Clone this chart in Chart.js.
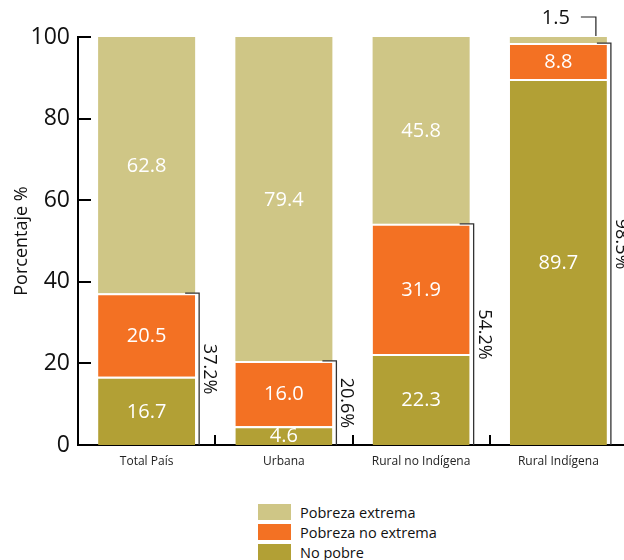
<!DOCTYPE html>
<html>
<head>
<meta charset="utf-8">
<title>Pobreza por área</title>
<script src="https://cdn.jsdelivr.net/npm/chart.js@4.4.0/dist/chart.umd.min.js"></script>
<style>
    body { margin: 0; background: #fff; width: 624px; height: 560px; overflow: hidden; position: relative; font-family: "Open Sans", sans-serif; }
    #wrap { position: absolute; left: 0; top: 0; width: 640px; height: 490px; }
    #leyenda { position: absolute; left: 258px; top: 502px; }
    .item { height: 20px; display: flex; align-items: center; font-size: 14.5px; color: #111; }
    .caja { width: 33px; height: 16px; margin-right: 9px; }
</style>
</head>
<body>
<div id="wrap"><canvas id="barras"></canvas></div>
<div id="leyenda"></div>
<script>
var categorias = ["Total País", "Urbana", "Rural no Indígena", "Rural Indígena"];
var noPobre = [16.7, 4.6, 22.3, 89.7];
var pobrezaNoExtrema = [20.5, 16.0, 31.9, 8.8];
var pobrezaExtrema = [62.8, 79.4, 45.8, 1.5];
var yTicks = [0, 20, 40, 60, 80, 100];

var fuente = '"Open Sans", sans-serif';

// valores dentro de cada segmento (o fuera con guía si no caben)
var etiquetas = {
    id: 'etiquetas',
    afterDatasetsDraw: function(chart) {
        var ctx = chart.ctx;
        ctx.save();
        ctx.font = '20px ' + fuente;
        ctx.textAlign = 'center';
        ctx.textBaseline = 'middle';
        chart.data.datasets.forEach(function(ds, i) {
            var meta = chart.getDatasetMeta(i);
            meta.data.forEach(function(bar, j) {
                var v = ds.data[j];
                var txt = v.toFixed(1);
                if (v < 3) {
                    var right = bar.x + bar.width / 2;
                    var top = Math.min(bar.y, bar.base);
                    ctx.strokeStyle = '#222';
                    ctx.lineWidth = 1.2;
                    ctx.beginPath();
                    ctx.moveTo(right - 26, top - 20);
                    ctx.lineTo(right - 11, top - 20);
                    ctx.lineTo(right - 11, top - 1);
                    ctx.stroke();
                    ctx.fillStyle = '#111';
                    ctx.fillText(txt, right - 51, top - 19);
                } else {
                    ctx.fillStyle = '#fff';
                    ctx.fillText(txt, bar.x, (bar.y + bar.base) / 2 + 1);
                }
            });
        });
        ctx.restore();
    }
};

// llave con el total de pobreza a la derecha de cada barra
var llaves = {
    id: 'llaves',
    afterDatasetsDraw: function(chart) {
        var ctx = chart.ctx;
        var y = chart.scales.y;
        var meta = chart.getDatasetMeta(1);
        ctx.save();
        meta.data.forEach(function(bar, j) {
            var total = noPobre[j] + pobrezaNoExtrema[j];
            var yTop = y.getPixelForValue(total);
            var y0 = y.getPixelForValue(0);
            var right = bar.x + bar.width / 2;
            var xv = right + 4;
            ctx.strokeStyle = '#333';
            ctx.lineWidth = 1.3;
            ctx.beginPath();
            ctx.moveTo(right - 10, yTop);
            ctx.lineTo(xv, yTop);
            ctx.lineTo(xv, y0);
            ctx.stroke();

            ctx.save();
            ctx.translate(xv + 10, (yTop + y0) / 2);
            ctx.rotate(Math.PI / 2);
            ctx.font = '18px ' + fuente;
            ctx.fillStyle = '#111';
            ctx.textAlign = 'center';
            ctx.textBaseline = 'middle';
            ctx.fillText(total.toFixed(1) + '%', 0, 0);
            ctx.restore();
        });
        ctx.restore();
    }
};

// marcas de los ejes hacia adentro
var marcas = {
    id: 'marcas',
    afterDraw: function(chart) {
        var ctx = chart.ctx;
        var area = chart.chartArea;
        var x = chart.scales.x, y = chart.scales.y;
        ctx.save();
        ctx.strokeStyle = '#000';
        ctx.lineWidth = 2;
        ctx.beginPath();
        yTicks.forEach(function(t) {
            var py = Math.round(y.getPixelForValue(t));
            ctx.moveTo(area.left, py);
            ctx.lineTo(area.left + 13, py);
        });
        for (var j = 1; j < categorias.length; j++) {
            var px = Math.round((x.getPixelForValue(j - 1) + x.getPixelForValue(j)) / 2);
            ctx.moveTo(px, area.bottom);
            ctx.lineTo(px, area.bottom - 10);
        }
        ctx.stroke();
        ctx.restore();
    }
};

var series = [
    { label: "No pobre", data: noPobre, backgroundColor: "#b2a035", borderWidth: { top: 2 } },
    { label: "Pobreza no extrema", data: pobrezaNoExtrema, backgroundColor: "#f37123", borderWidth: { top: 2 } },
    { label: "Pobreza extrema", data: pobrezaExtrema, backgroundColor: "#cfc686", borderWidth: 0 }
];
series.forEach(function(s) {
    s.borderColor = "#fff";
    s.borderSkipped = false;
    s.barPercentage = 0.707;
    s.categoryPercentage = 1;
});

new Chart(document.getElementById("barras"), {
    type: 'bar',
    data: { labels: categorias, datasets: series },
    options: {
        responsive: true,
        maintainAspectRatio: false,
        animation: false,
        layout: { padding: { left: 0, top: 37, right: 13, bottom: 0 } },
        plugins: { legend: { display: false }, tooltip: { enabled: false } },
        scales: {
            x: {
                stacked: true,
                grid: { display: false, drawTicks: false },
                border: { display: true, color: '#000', width: 2 },
                ticks: { color: '#222', font: { family: fuente, size: 12 }, padding: 9 },
                afterFit: function(scale) { scale.height = 45; }
            },
            y: {
                stacked: true,
                min: 0,
                max: 100,
                afterBuildTicks: function(scale) {
                    scale.ticks = yTicks.map(function(v) { return { value: v }; });
                },
                grid: { display: false, drawTicks: false },
                border: { display: true, color: '#000', width: 2 },
                ticks: { color: '#111', font: { family: fuente, size: 23 }, padding: 8 },
                title: {
                    display: true,
                    text: 'Porcentaje %',
                    color: '#111',
                    font: { family: fuente, size: 18 },
                    padding: { top: 11, bottom: 0 }
                },
                afterFit: function(scale) { scale.width = 78; }
            }
        }
    },
    plugins: [etiquetas, llaves, marcas]
});

// leyenda de arriba hacia abajo
var leyenda = document.getElementById("leyenda");
series.slice().reverse().forEach(function(s) {
    var item = document.createElement("div");
    item.className = "item";
    item.innerHTML = '<span class="caja" style="background:' + s.backgroundColor + '"></span><span>' + s.label + '</span>';
    leyenda.appendChild(item);
});
</script>
</body>
</html>
